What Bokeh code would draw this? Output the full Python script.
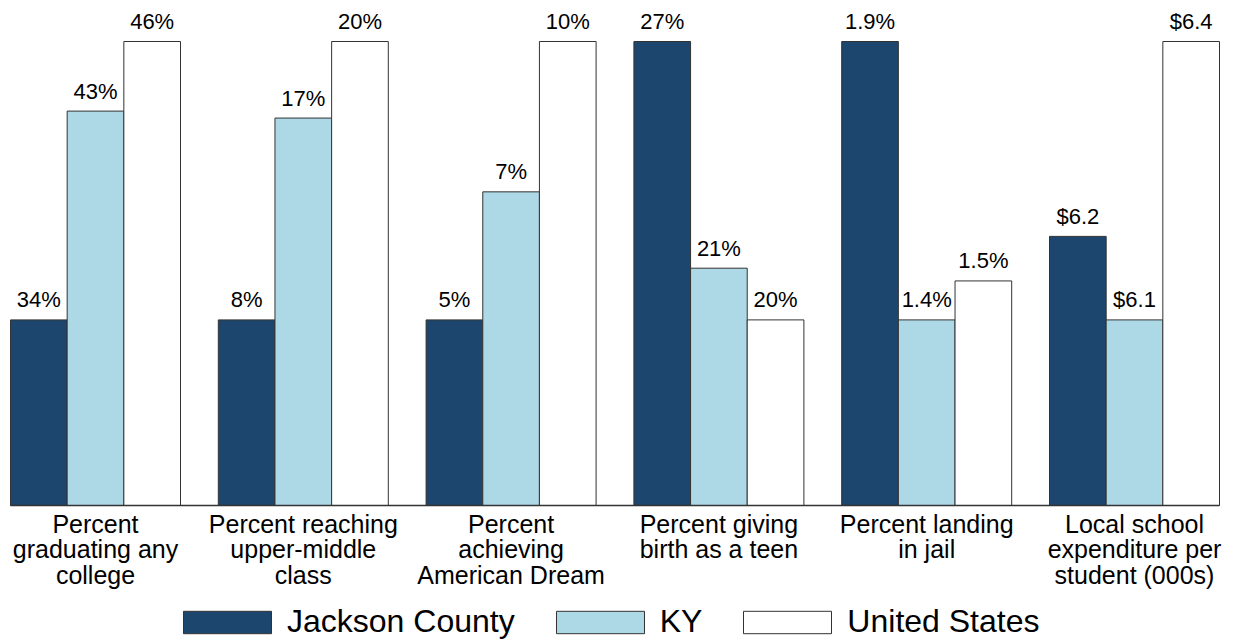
import numpy as np
from bokeh.plotting import figure
from bokeh.models import ColumnDataSource, Range1d, Legend, LegendItem
from bokeh.core.properties import value
from bokeh.embed import file_html
from bokeh.resources import INLINE

categories = [
    "Percent\ngraduating any\ncollege",
    "Percent reaching\nupper-middle\nclass",
    "Percent\nachieving\nAmerican Dream",
    "Percent giving\nbirth as a teen",
    "Percent landing\nin jail",
    "Local school\nexpenditure per\nstudent (000s)",
]
series_names = ["Jackson County", "KY", "United States"]
jackson = [34, 8, 5, 27, 1.9, 6.19]
ky = [43.0, 16.7, 7.3, 21.3, 1.4, 6.1]
us = [46, 20, 10, 20, 1.47, 6.4]
jackson_lbl = ["34%", "8%", "5%", "27%", "1.9%", "$6.2"]
ky_lbl = ["43%", "17%", "7%", "21%", "1.4%", "$6.1"]
us_lbl = ["46%", "20%", "10%", "20%", "1.5%", "$6.4"]

colors = ["#1c466d", "#add8e6", "#ffffff"]
FONT = "Liberation Sans"

vals = np.array([jackson, ky, us], dtype=float)
mn = vals.min(axis=0)
mx = vals.max(axis=0)
# each group scaled on its own: lowest bar 40% of the full height, highest bar full height
heights = 0.4 + 0.6 * (vals - mn) / (mx - mn)

n = len(categories)
gx = np.arange(n, dtype=float)
group_w = 170 / 207.8
bw = group_w / 3
offsets = [-bw, 0.0, bw]

W, H = 1226, 640
px_x = (n - 1 + group_w) / 1209.0
px_y = 1.0 / 464.0
x0 = -group_w / 2 - 10 * px_x
x1 = (n - 1) + group_w / 2 + (W - 1219) * px_x
y1 = 505 * px_y
y0 = -(H - 505) * px_y

p = figure(width=W, height=H, output_backend="svg", toolbar_location=None,
           x_range=Range1d(x0, x1), y_range=Range1d(y0, y1),
           min_border=0, min_border_left=0, min_border_right=0,
           min_border_top=0, min_border_bottom=0)
p.axis.visible = False
p.grid.visible = False
p.outline_line_color = None
p.background_fill_color = "white"

labels_all = [jackson_lbl, ky_lbl, us_lbl]
renderers = []
for i in range(3):
    src = ColumnDataSource(dict(x=gx + offsets[i], top=heights[i], lbl=labels_all[i]))
    r = p.vbar(x="x", top="top", bottom=0, width=bw, source=src,
               fill_color=colors[i], line_color="#333333", line_width=1)
    renderers.append(r)
    p.text(x="x", y="top", text="lbl", source=src, text_align="center",
           text_baseline="alphabetic", y_offset=-20,
           text_font=value(FONT), text_font_size="22px", text_color="black")

# baseline
p.segment(x0=[gx[0] - group_w / 2], y0=[0], x1=[gx[-1] + group_w / 2], y1=[0],
          line_color="#333333", line_width=1.5)

csrc = ColumnDataSource(dict(x=gx, y=np.zeros(n), t=categories))
p.text(x="x", y="y", text="t", source=csrc, text_align="center",
       text_baseline="top", y_offset=4, text_line_height=0.92,
       text_font=value(FONT), text_font_size="25px", text_color="black")

legend = Legend(items=[LegendItem(label=series_names[i], renderers=[renderers[i]]) for i in range(3)],
                orientation="horizontal", location=(172, 0),
                glyph_width=110, glyph_height=28, label_standoff=5, spacing=30,
                label_text_font=FONT, label_text_font_size="32px", label_text_color="black",
                padding=0, margin=0, border_line_alpha=0, background_fill_alpha=0)
p.add_layout(legend)

open("out.html", "w").write(file_html(p, INLINE))
